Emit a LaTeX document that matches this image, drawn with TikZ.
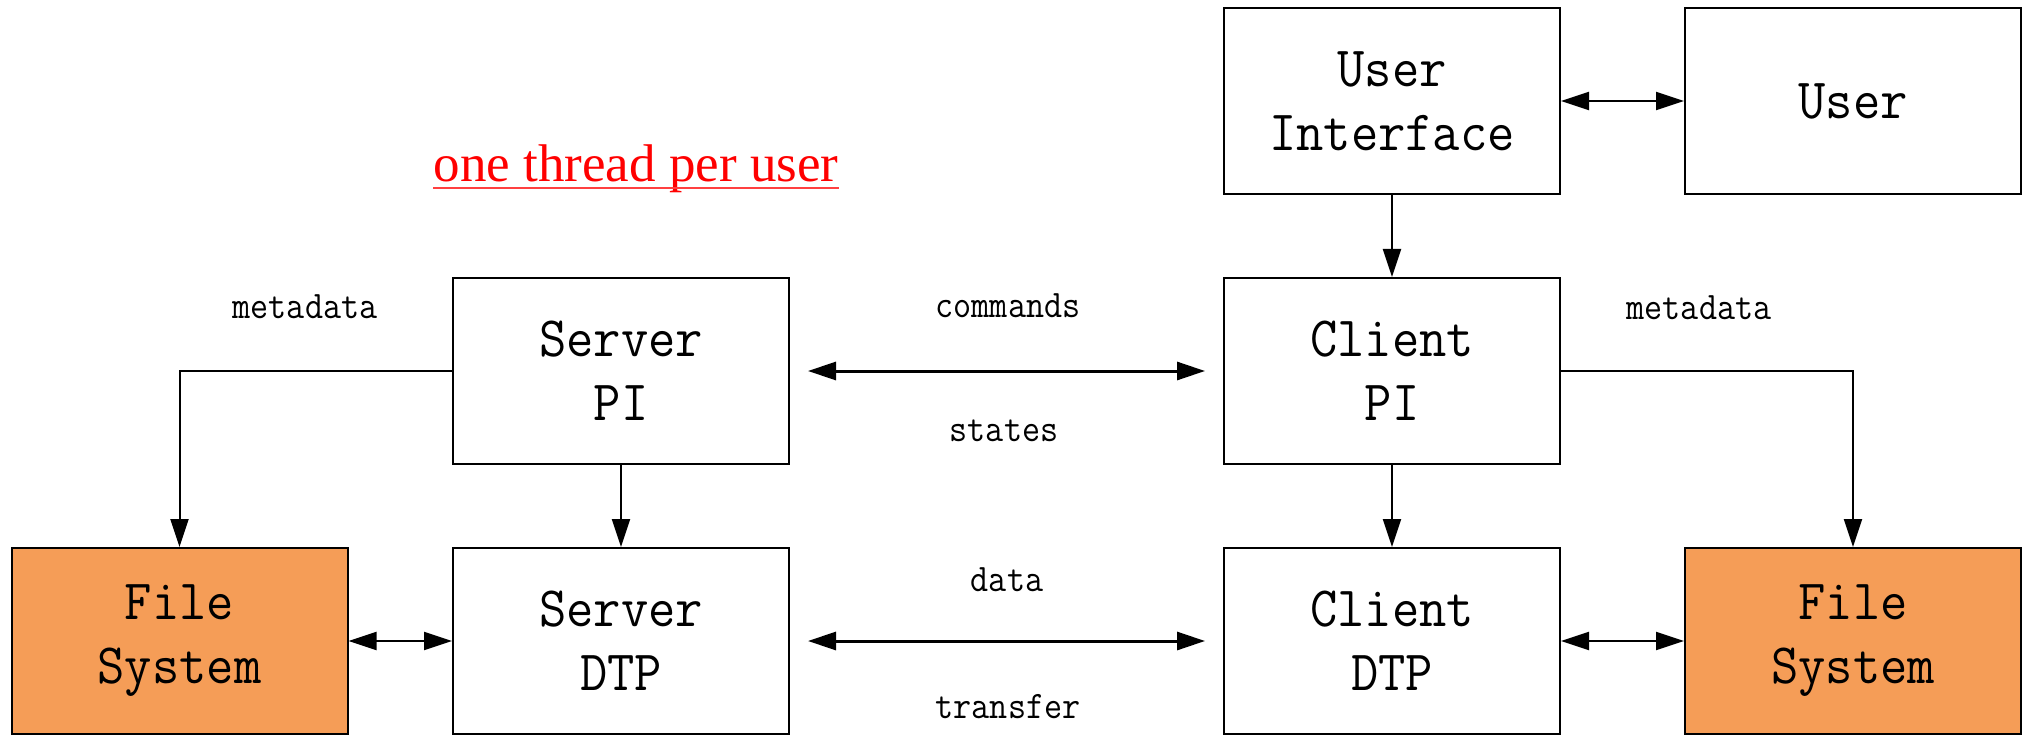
\documentclass[tikz,border=0pt]{standalone}
\usepackage{fontspec}
\usetikzlibrary{arrows.meta}
\newfontfamily\boxfont[FakeStretch=0.93]{Latin Modern Mono}
\newfontfamily\labelfont[FakeStretch=0.9]{Latin Modern Mono}
\newfontfamily\titlefont{Liberation Serif}
\definecolor{fsorange}{RGB}{245,157,87}
\begin{document}
\begin{tikzpicture}[x=1pt,y=-1pt,
  block/.style={draw, line width=2pt, minimum width=336pt, minimum height=186pt,
    inner sep=0pt, align=center, font=\boxfont\fontsize{57}{64}\selectfont},
  fsblock/.style={block, fill=fsorange},
  lbl/.style={anchor=base, inner sep=0pt, font=\labelfont\fontsize{39}{44}\selectfont},
  tip/.style={-{Triangle[length=28pt,width=18pt]}},
  bitip/.style={{Triangle[length=28pt,width=18pt]}-{Triangle[length=28pt,width=18pt]}},
  link/.style={line width=2pt},
  channel/.style={line width=3pt}]
\useasboundingbox (0,0) rectangle (2023,735);

% boxes
\node[block]   (ui)   at (1392,101) {User\\Interface};
\node[block]   (user) at (1853,101) {User};
\node[block]   (spi)  at (621,371)  {Server\\PI};
\node[block]   (cpi)  at (1392,371) {Client\\PI};
\node[fsblock] (fsl)  at (179.5,641) {File\\System};
\node[block]   (sdtp) at (621,641)  {Server\\DTP};
\node[block]   (cdtp) at (1392,641) {Client\\DTP};
\node[fsblock] (fsr)  at (1853,641) {File\\System};

% title
\node[anchor=base, inner sep=0pt, text=red, font=\titlefont\fontsize{53}{60}\selectfont]
  (title) at (636,182) {one thread per user};
\draw[red!75, line width=1.5pt] ([yshift=-6pt]title.base west) -- ([yshift=-6pt]title.base east);

% connectors
\draw[link, bitip] (ui.east) -- (user.west);
\draw[link, tip] (ui.south) -- (cpi.north);
\draw[link, tip] (spi.south) -- (sdtp.north);
\draw[link, tip] (cpi.south) -- (cdtp.north);
\draw[link, tip] (spi.west) -| (fsl.north);
\draw[link, tip] (cpi.east) -| (fsr.north);
\draw[link, bitip] (fsl.east) -- (sdtp.west);
\draw[link, bitip] (cdtp.east) -- (fsr.west);
\draw[channel, bitip] ([xshift=18pt]spi.east) -- ([xshift=-18pt]cpi.west);
\draw[channel, bitip] ([xshift=18pt]sdtp.east) -- ([xshift=-18pt]cdtp.west);

% labels
\node[lbl] (mdl) at (305,318)  {metadata};
\node[lbl] (cmd) at (1008,317) {commands};
\node[lbl] (st)  at (1004,441) {states};
\node[lbl] (dat) at (1007,591) {data};
\node[lbl] (trf) at (1008,718) {transfer};
\node[lbl] (mdr) at (1699,319) {metadata};
\end{tikzpicture}
\end{document}
